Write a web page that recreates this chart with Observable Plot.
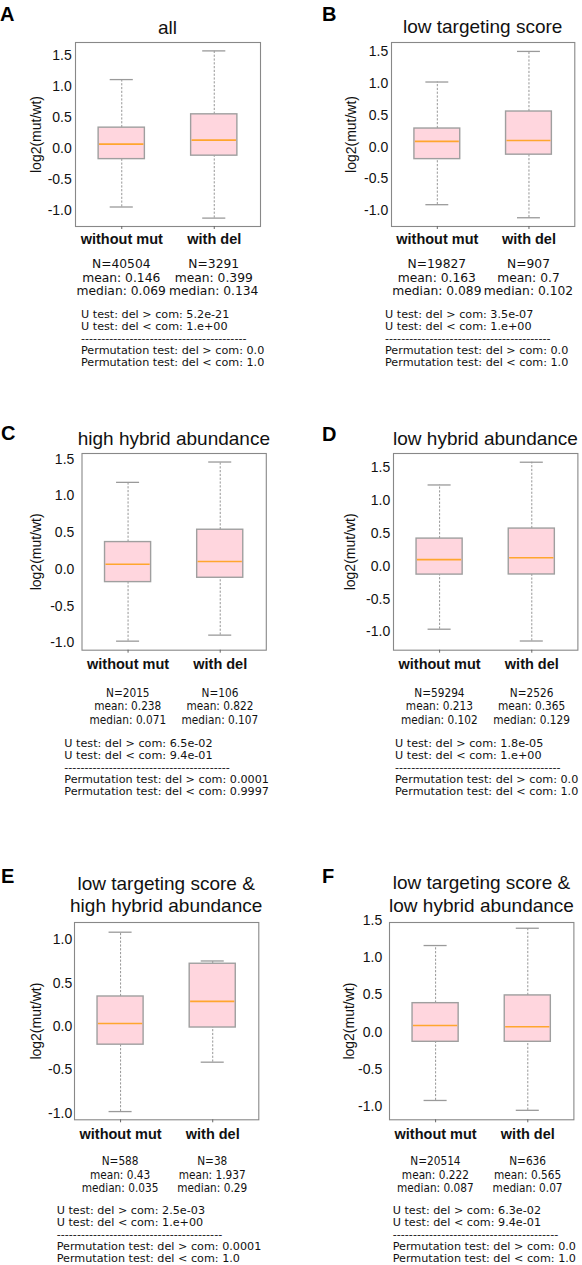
<!DOCTYPE html>
<html><head><meta charset="utf-8">
<script src="https://cdn.jsdelivr.net/npm/d3@7"></script>
<script src="https://cdn.jsdelivr.net/npm/@observablehq/plot@0.6"></script>
<style>
body{margin:0;background:#fff;}
#fig{position:relative;width:582px;height:1265px;overflow:hidden;background:#fff;}
.panel{position:absolute;}
.panel svg{max-width:none !important;background:transparent !important;}
</style></head><body><div id="fig"></div>
<script>
// ---------- data ----------
const panelLetters = ["A","B","C","D","E","F"];
const panelTitles = [
  ["all"],
  ["low targeting score"],
  ["high hybrid abundance"],
  ["low hybrid abundance"],
  ["low targeting score &","high hybrid abundance"],
  ["low targeting score &","low hybrid abundance"]
];
const categories = ["without mut","with del"];
const whiskerLow  = [[-0.95,-1.13],[-0.905,-1.11],[-0.977,-0.895],[-0.96,-1.14],[-0.982,-0.412],[-0.918,-1.05]];
const quartile1   = [[-0.174,-0.118],[-0.19,-0.12],[-0.173,-0.114],[-0.127,-0.125],[-0.21,-0.012],[-0.131,-0.131]];
const medians     = [[0.069,0.134],[0.089,0.102],[0.071,0.107],[0.102,0.129],[0.035,0.29],[0.087,0.07]];
const quartile3   = [[0.336,0.552],[0.29,0.557],[0.372,0.54],[0.422,0.575],[0.346,0.724],[0.387,0.491]];
const whiskerHigh = [[1.115,1.58],[1.02,1.5],[1.185,1.462],[1.24,1.587],[1.088,0.756],[1.16,1.392]];
const counts      = [["40504","3291"],["19827","907"],["2015","106"],["59294","2526"],["588","38"],["20514","636"]];
const means       = [["0.146","0.399"],["0.163","0.7"],["0.238","0.822"],["0.213","0.365"],["0.43","1.937"],["0.222","0.565"]];
const medianText  = [["0.069","0.134"],["0.089","0.102"],["0.071","0.107"],["0.102","0.129"],["0.035","0.29"],["0.087","0.07"]];
const uGreater    = ["5.2e-21","3.5e-07","6.5e-02","1.8e-05","2.5e-03","6.3e-02"];
const uLess       = ["1.e+00","1.e+00","9.4e-01","1.e+00","1.e+00","9.4e-01"];
const permGreater = ["0.0","0.0","0.0001","0.0","0.0001","0.0"];
const permLess    = ["1.0","1.0","0.9997","1.0","1.0","1.0"];
const yDomains    = [[-1.266,1.716],[-1.247,1.64],[-1.1,1.578],[-1.28,1.72],[-1.077,1.2],[-1.177,1.469]];
const yTicks = [
  [-1,-0.5,0,0.5,1,1.5],[-1,-0.5,0,0.5,1,1.5],[-1,-0.5,0,0.5,1,1.5],
  [-1,-0.5,0,0.5,1,1.5],[-1,-0.5,0,0.5,1],[-1,-0.5,0,0.5,1,1.5]
];
const yLabel = "log2(mut/wt)";
const separator = "-".repeat(41);

// ---------- layout ----------
const layout = [
  {L:75,   T:41.7,  R:260,   B:225.7, labOff:44,   yPad:3.7, xPad:4.6, letter:[0,20.7],   title:[34.3],        stats:[268.3,281.7,295],     tests:[318.3,330.3,342.3,354.3,366.3], testsX:81,    cond:false},
  {L:391,  T:41.7,  R:574.3, B:225.7, labOff:45,   yPad:3.3, xPad:4.6, letter:[322,20.7], title:[32.8],        stats:[268.3,281.7,295],     tests:[318.3,330.3,342.3,354.3,366.3], testsX:385,   cond:false},
  {L:81.7, T:453.3, R:266,   B:650,   labOff:50.5, yPad:7.7, xPad:5.3, letter:[1,440],    title:[445],         stats:[696.7,710.2,723.7],   tests:[746.7,758.7,770.7,782.7,794.7], testsX:64.3,  cond:true},
  {L:393.3,T:453.3, R:577.7, B:650,   labOff:48,   yPad:3.3, xPad:5.3, letter:[322,440.7],title:[445],         stats:[696.7,710.2,723.7],   tests:[746.7,758.7,770.7,782.7,794.7], testsX:395,   cond:true},
  {L:74,   T:921.7, R:258.3, B:1119,  labOff:43,   yPad:2.3, xPad:6.3, letter:[1,883.3],  title:[890,912.3],   stats:[1165,1178.7,1192.3],  tests:[1214.3,1226.3,1238.3,1250.3,1262.3], testsX:56.7, cond:true},
  {L:389.3,T:921.7, R:573.7, B:1119,  labOff:45,   yPad:7.3, xPad:6.3, letter:[322,883.3],title:[889.3,912.3], stats:[1165,1178.7,1192.3],  tests:[1214.3,1226.3,1238.3,1250.3,1262.3], testsX:392.7, cond:true}
];

const sansArial = "'Liberation Sans', Arial, Helvetica, sans-serif";
const sansDeja = "'DejaVu Sans', sans-serif";

const fig = document.getElementById("fig");
const overlay = d3.create("svg")
  .attr("width", 582).attr("height", 1265)
  .style("position", "absolute").style("left", "0px").style("top", "0px")
  .style("pointer-events", "none");

function addText(str, x, y, o) {
  overlay.append("text")
    .attr("transform", `translate(${x},${y}) scale(${o.sx || 1},1)`)
    .attr("text-anchor", o.anchor || "start")
    .attr("fill", o.fill || "#111")
    .style("font-family", o.family)
    .style("font-size", o.size + "px")
    .style("font-weight", o.weight || "normal")
    .text(str);
}

panelLetters.forEach((letter, i) => {
  const lay = layout[i];
  const ml = lay.labOff + 2, mr = 4, mt = 4, mb = 30;
  const w = lay.R - lay.L + ml + mr;
  const h = lay.B - lay.T + mt + mb;
  const boxes = categories.map((c, j) => ({
    cat: c, pos: j + 1,
    lo: whiskerLow[i][j], q1: quartile1[i][j], med: medians[i][j],
    q3: quartile3[i][j], hi: whiskerHigh[i][j]
  }));
  const whisk = {stroke: "#8a8a8a", strokeWidth: 0.9, strokeDasharray: "2.2,1.6"};
  const cap = {x1: d => d.pos - 0.125, x2: d => d.pos + 0.125, stroke: "#9a9a9a", strokeWidth: 1.3};
  const chart = Plot.plot({
    width: w, height: h,
    marginLeft: ml, marginRight: mr, marginTop: mt, marginBottom: mb,
    style: {fontFamily: sansArial, background: "transparent", overflow: "visible", color: "#111"},
    x: {domain: [0.5, 2.5]},
    y: {domain: yDomains[i]},
    marks: [
      Plot.ruleX(boxes, {x: "pos", y1: "q3", y2: "hi", ...whisk}),
      Plot.ruleX(boxes, {x: "pos", y1: "lo", y2: "q1", ...whisk}),
      Plot.ruleY(boxes, {y: "hi", ...cap}),
      Plot.ruleY(boxes, {y: "lo", ...cap}),
      Plot.rect(boxes, {x1: d => d.pos - 0.25, x2: d => d.pos + 0.25, y1: "q1", y2: "q3",
        fill: "#ffd6de", stroke: "#9f9f9f", strokeWidth: 1.4}),
      Plot.ruleY(boxes, {y: "med", x1: d => d.pos - 0.25 + 0.01, x2: d => d.pos + 0.25 - 0.01,
        stroke: "#ffa62e", strokeWidth: 1.6}),
      Plot.frame({stroke: "#888", strokeWidth: 1.1}),
      Plot.axisX({ticks: [1, 2], tickFormat: d => categories[d - 1], tickSize: 3, tickPadding: lay.xPad,
        fontSize: 14.5, fontWeight: "bold", label: null, stroke: "#666"}),
      Plot.axisY({ticks: yTicks[i], tickFormat: d => d.toFixed(1), tickSize: 0, tickPadding: lay.yPad,
        fontSize: 14, label: yLabel, labelAnchor: "center", labelOffset: lay.labOff, labelArrow: "none"})
    ]
  });
  const left = lay.L - ml, top = lay.T - mt;
  const wrap = document.createElement("div");
  wrap.className = "panel";
  wrap.style.left = left + "px";
  wrap.style.top = top + "px";
  wrap.style.width = w + "px";
  wrap.style.height = h + "px";
  wrap.appendChild(chart);
  fig.appendChild(wrap);

  // panel letter and title
  addText(letter, lay.letter[0], lay.letter[1], {size: 20, weight: "bold", family: sansArial, fill: "#000"});
  const cx = (lay.L + lay.R) / 2;
  panelTitles[i].forEach((t, k) => addText(t, cx, lay.title[k], {size: 19, family: sansArial, anchor: "middle", fill: "#111"}));

  // stats under each category
  const xs = chart.scale("x");
  const statSize = lay.cond ? 12 : 12.3, statSx = lay.cond ? 0.88 : 1;
  const testSize = 11.2, testSx = 1;
  categories.forEach((c, j) => {
    const px = left + xs.apply(j + 1);
    const lines = [`N=${counts[i][j]}`, `mean: ${means[i][j]}`, `median: ${medianText[i][j]}`];
    lines.forEach((s, k) => addText(s, px, lay.stats[k], {size: statSize, sx: statSx, family: sansDeja, anchor: "middle"}));
  });
  const tests = [
    `U test: del > com: ${uGreater[i]}`,
    `U test: del < com: ${uLess[i]}`,
    separator,
    `Permutation test: del > com: ${permGreater[i]}`,
    `Permutation test: del < com: ${permLess[i]}`
  ];
  tests.forEach((s, k) => addText(s, lay.testsX, lay.tests[k], {size: testSize, sx: testSx, family: sansDeja}));
});

fig.appendChild(overlay.node());
</script>
</body></html>
